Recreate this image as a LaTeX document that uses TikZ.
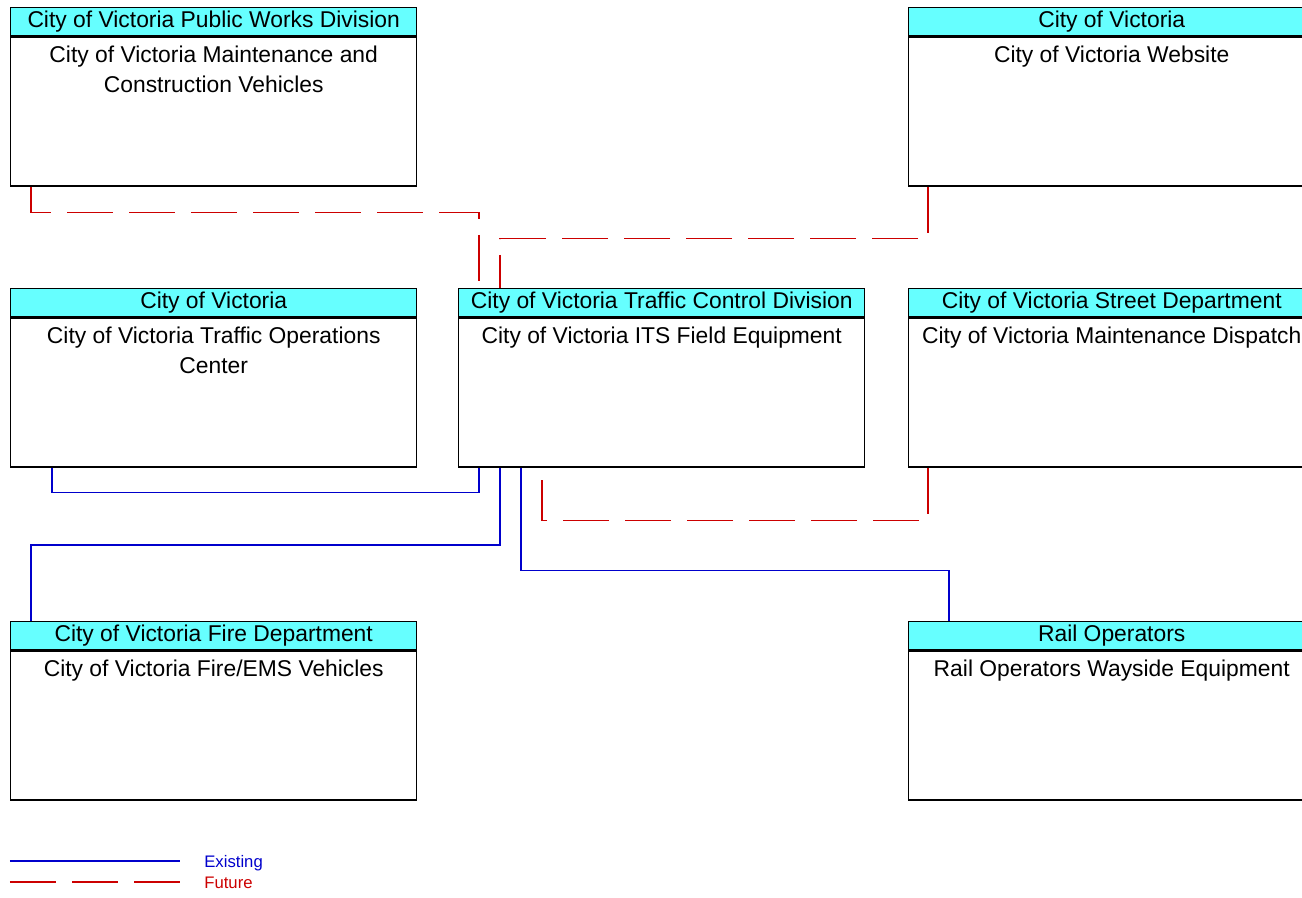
\documentclass[tikz,border=0pt]{standalone}
\usepackage{fontspec}
\setmainfont{Liberation Sans}
\usepackage{xcolor}
\usepackage{tikz}
\usetikzlibrary{positioning}

\definecolor{hdrcyan}{RGB}{102,255,255}
\definecolor{lineblue}{RGB}{0,0,204}
\definecolor{linered}{RGB}{204,0,0}

\tikzset{
  hdr/.style={draw,line width=0.8pt,fill=hdrcyan,minimum width=8.12cm,minimum height=0.56cm,inner sep=0pt,anchor=north west},
  bodybox/.style={draw,line width=0.8pt,minimum width=8.12cm,minimum height=2.98cm,inner sep=0pt},
  bodytxt/.style={align=center,inner sep=0pt},
  legtxt/.style={font=\fontsize{9.5pt}{11pt}\selectfont,inner sep=0pt,anchor=west},
  existing/.style={draw=lineblue,line width=0.6pt},
  future/.style={draw=linered,line width=0.6pt,dash pattern=on 0.92cm off 0.32cm},
}

\begin{document}
\begin{tikzpicture}[font=\fontsize{13pt}{17pt}\selectfont]
\clip (0,0) rectangle (26.04,-17.94);
% boxes
\node[hdr] (pw-h) at (0.2,-0.14) {City of Victoria Public Works Division};
\node[bodybox,below=0pt of pw-h] (pw) {};
\node[bodytxt,below=0.18cm of pw-h] (pw-t) {City of Victoria Maintenance and\\Construction Vehicles};

\node[hdr] (web-h) at (18.16,-0.14) {City of Victoria};
\node[bodybox,below=0pt of web-h] (web) {};
\node[bodytxt,below=0.18cm of web-h] (web-t) {City of Victoria Website};

\node[hdr] (toc-h) at (0.2,-5.76) {City of Victoria};
\node[bodybox,below=0pt of toc-h] (toc) {};
\node[bodytxt,below=0.18cm of toc-h] (toc-t) {City of Victoria Traffic Operations\\Center};

\node[hdr] (fe-h) at (9.16,-5.76) {City of Victoria Traffic Control Division};
\node[bodybox,below=0pt of fe-h] (fe) {};
\node[bodytxt,below=0.18cm of fe-h] (fe-t) {City of Victoria ITS Field Equipment};

\node[hdr] (sd-h) at (18.16,-5.76) {City of Victoria Street Department};
\node[bodybox,below=0pt of sd-h] (sd) {};
\node[bodytxt,below=0.18cm of sd-h] (sd-t) {City of Victoria Maintenance Dispatch};

\node[hdr] (fire-h) at (0.2,-12.42) {City of Victoria Fire Department};
\node[bodybox,below=0pt of fire-h] (fire) {};
\node[bodytxt,below=0.18cm of fire-h] (fire-t) {City of Victoria Fire/EMS Vehicles};

\node[hdr] (rail-h) at (18.16,-12.42) {Rail Operators};
\node[bodybox,below=0pt of rail-h] (rail) {};
\node[bodytxt,below=0.18cm of rail-h] (rail-t) {Rail Operators Wayside Equipment};

% connectors
\draw[future] ([xshift=0.42cm]pw.south west) -- ++(0,-0.52) -| ([xshift=0.42cm]fe-h.north west);
\draw[future] ([xshift=0.4cm]web.south west) -- ++(0,-1.04) -| ([xshift=0.84cm]fe-h.north west);
\draw[existing] ([xshift=0.84cm]toc.south west) -- ++(0,-0.5) -| ([xshift=0.42cm]fe.south west);
\draw[existing] ([xshift=0.42cm]fire-h.north west) -- ++(0,1.52) -| ([xshift=0.84cm]fe.south west);
\draw[existing] ([xshift=1.26cm]fe.south west) -- ++(0,-2.06) -| ([xshift=0.82cm]rail-h.north west);
\draw[future] ([xshift=0.4cm]sd.south west) -- ++(0,-1.06) -| ([xshift=1.68cm]fe.south west);

% legend
\coordinate (ex-a) at (0.2,-17.22);
\coordinate (ex-b) at (3.6,-17.22);
\coordinate (fu-a) at (0.2,-17.64);
\coordinate (fu-b) at (3.6,-17.64);
\draw[existing] (ex-a) -- (ex-b);
\draw[future] (fu-a) -- (fu-b);
\node[legtxt,text=lineblue] (ex-t) at (4.08,-17.26) {Existing};
\node[legtxt,text=linered] (fu-t) at (4.08,-17.66) {Future};
\end{tikzpicture}
\end{document}
